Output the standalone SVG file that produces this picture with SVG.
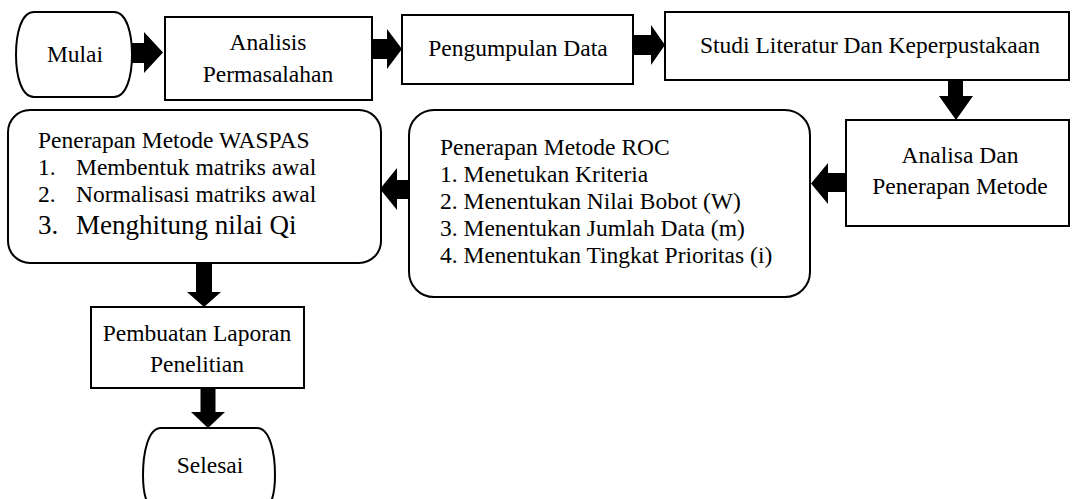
<svg xmlns="http://www.w3.org/2000/svg" width="1072" height="499" viewBox="0 0 1072 499">
<style>
.box{fill:#fff;stroke:#000;stroke-width:2}
.arrow{fill:#000;stroke:none}
text{font-family:"Liberation Serif","Times New Roman",serif;font-size:23.5px;fill:#000}
.c{text-anchor:middle}
.big{font-size:27px}
</style>
<rect width="1072" height="499" fill="#fff"/>
<g id="mulai">
<path class="box" d="M34,12 H114 C127,12 132,34 132,54.5 C132,75 127,97 114,97 H34 C21,97 16,75 16,54.5 C16,34 21,12 34,12 Z"/>
<text class="c" x="75" y="62">Mulai</text>
</g>
<g id="analisis">
<rect class="box" x="165" y="17" width="207" height="83"/>
<text class="c" x="268" y="50">Analisis</text>
<text class="c" x="268" y="82">Permasalahan</text>
</g>
<g id="pengumpulan">
<rect class="box" x="402" y="15" width="231" height="69"/>
<text class="c" x="518" y="56">Pengumpulan Data</text>
</g>
<g id="studi">
<rect class="box" x="665" y="12" width="404" height="68"/>
<text class="c" x="870" y="53">Studi Literatur Dan Keperpustakaan</text>
</g>
<g id="analisa">
<rect class="box" x="846" y="120" width="223" height="106"/>
<text class="c" x="960" y="163">Analisa Dan</text>
<text class="c" x="960" y="194">Penerapan Metode</text>
</g>
<g id="roc">
<rect class="box" x="409" y="110" width="401" height="187" rx="25" ry="25"/>
<text x="440" y="155">Penerapan Metode ROC</text>
<text x="440" y="182">1. Menetukan Kriteria</text>
<text x="440" y="209">2. Menentukan Nilai Bobot (W)</text>
<text x="440" y="236">3. Menentukan Jumlah Data (m)</text>
<text x="440" y="263">4. Menentukan Tingkat Prioritas (i)</text>
</g>
<g id="waspas">
<rect class="box" x="8" y="110" width="373" height="153" rx="22" ry="22"/>
<text x="38" y="148">Penerapan Metode WASPAS</text>
<text y="175"><tspan x="38">1.</tspan><tspan x="76">Membentuk matriks awal</tspan></text>
<text y="202"><tspan x="38">2.</tspan><tspan x="76">Normalisasi matriks awal</tspan></text>
<text class="big" y="234"><tspan x="38">3.</tspan><tspan x="76">Menghitung nilai Qi</tspan></text>
</g>
<g id="pembuatan">
<rect class="box" x="91" y="307" width="213" height="81"/>
<text class="c" x="197" y="341">Pembuatan Laporan</text>
<text class="c" x="197" y="372">Penelitian</text>
</g>
<g id="selesai">
<path class="box" d="M161,428 H257 C270,428 275,453 275,475 C275,497 270,512 257,512 H161 C148,512 143,497 143,475 C143,453 148,428 161,428 Z"/>
<text class="c" x="210" y="473">Selesai</text>
</g>
<g id="connectors">
<polygon class="arrow" points="131,43 144,43 144,32 163,52.5 144,73 144,63 131,63"/>
<polygon class="arrow" points="372,39 387,39 387,29 402,49 387,69 387,59 372,59"/>
<polygon class="arrow" points="633,35 651,35 651,25 665,45 651,65 651,55 633,55"/>
<polygon class="arrow" points="948,80 963,80 963,96 973,96 956,120 939,96 948,96"/>
<polygon class="arrow" points="846,173 828,173 828,163 811,183.5 828,204 828,192 846,192"/>
<polygon class="arrow" points="409,180 397,180 397,168 380,189 397,210 397,199 409,199"/>
<polygon class="arrow" points="196,264 212,264 212,292 221,292 204,307 187,292 196,292"/>
<polygon class="arrow" points="200.5,388 215.5,388 215.5,412 225,412 208,428 191,412 200.5,412"/>
</g>
</svg>
